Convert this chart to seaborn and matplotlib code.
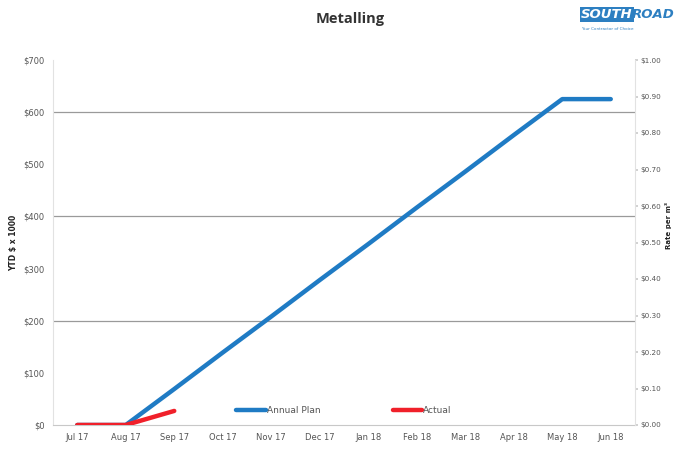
import matplotlib
matplotlib.use("Agg")
import matplotlib.pyplot as plt
import seaborn as sns
import pandas as pd

months = ["Jul 17", "Aug 17", "Sep 17", "Oct 17", "Nov 17", "Dec 17",
          "Jan 18", "Feb 18", "Mar 18", "Apr 18", "May 18", "Jun 18"]
annual_plan = [0, 0, 69, 139, 208, 278, 347, 417, 486, 556, 625, 625]
actual = [0, 0, 27]

left_ticks = [0, 100, 200, 300, 400, 500, 600, 700]
left_labels = ["$0", "$100", "$200", "$300", "$400", "$500", "$600", "$700"]
right_ticks = [0.0, 0.1, 0.2, 0.3, 0.4, 0.5, 0.6, 0.7, 0.8, 0.9, 1.0]

plan_df = pd.DataFrame({"Month": months, "Value": annual_plan, "Series": "Annual Plan"})
act_df = pd.DataFrame({"Month": months[:len(actual)], "Value": actual, "Series": "Actual"})
df = pd.concat([plan_df, act_df], ignore_index=True)

sns.set_theme(style="white")
plt.rcParams["font.family"] = ["Liberation Sans Narrow", "DejaVu Sans"]

fig = plt.figure(figsize=(6.74, 4.5), dpi=100)
ax = fig.add_axes([53 / 674, 25 / 450, (635 - 53) / 674, (425 - 60) / 450])

sns.lineplot(data=df, x="Month", y="Value", hue="Series",
             palette={"Annual Plan": "#1f7bc4", "Actual": "#f0202a"},
             linewidth=3.2, sort=False, ax=ax, legend=True)
# keep the actual line on top of the plan line
for line in ax.get_lines():
    if line.get_color().lower() == "#f0202a":
        line.set_zorder(5)

ax.set_xlim(-0.5, len(months) - 0.5)
ax.set_ylim(0, 700)
ax.set_xticks(range(len(months)))
ax.set_xticklabels(months, fontsize=6, color="#555555")
ax.set_yticks(left_ticks)
ax.set_yticklabels(left_labels, fontsize=6, color="#555555")
ax.tick_params(axis="both", length=0, pad=6)
ax.set_xlabel("")
ax.set_ylabel("YTD $ x 1000", fontsize=5.5, fontweight="bold", color="#222222", labelpad=4)

for y in (200, 400, 600):
    ax.axhline(y, color="#9a9a9a", linewidth=0.9, zorder=0)

for side in ("top", "right"):
    ax.spines[side].set_visible(False)
ax.spines["left"].set_color("#e2e2e2")
ax.spines["bottom"].set_color("#c8c8c8")
ax.spines["left"].set_linewidth(0.8)
ax.spines["bottom"].set_linewidth(0.8)

ax2 = ax.twinx()
ax2.set_ylim(0, 1.0)
ax2.set_yticks(right_ticks)
ax2.set_yticklabels([f"${v:.2f}" for v in right_ticks], fontsize=5.2, color="#555555")
ax2.tick_params(axis="y", length=2, color="#cccccc", pad=2)
for side in ("top", "left", "bottom"):
    ax2.spines[side].set_visible(False)
ax2.spines["right"].set_color("#e2e2e2")
ax2.spines["right"].set_linewidth(0.8)
ax2.grid(False)

leg = ax.legend(loc="lower center", bbox_to_anchor=(0.50, 0.005), ncol=2, frameon=False,
                fontsize=6.5, columnspacing=8, handlelength=3.3, handletextpad=0.1)
for t in leg.get_texts():
    t.set_color("#555555")

fig.text(0.52, 0.958, "Metalling", ha="center", va="center",
         fontsize=10.5, fontweight="bold", color="#333333", family=["Open Sans", "DejaVu Sans"])
fig.text(668.5 / 674, 0.5, "Rate per m³", rotation=90, ha="center", va="center",
         fontsize=5, fontweight="bold", color="#222222")

# company logo lettering
fig.text(0.862, 0.968, "SOUTH", ha="left", va="center", fontsize=9.5, fontweight="bold",
         style="italic", color="white", family=["DejaVu Sans"],
         bbox=dict(boxstyle="square,pad=0.1", facecolor="#2d7fc1", edgecolor="none"))
fig.text(0.938, 0.968, "ROAD", ha="left", va="center", fontsize=9.5, fontweight="bold",
         style="italic", color="#2d7fc1", family=["DejaVu Sans"])
fig.text(0.862, 0.935, "Your Contractor of Choice", ha="left", va="center",
         fontsize=3, color="#2d7fc1")

fig.savefig("out.png", dpi=100, facecolor="white")
